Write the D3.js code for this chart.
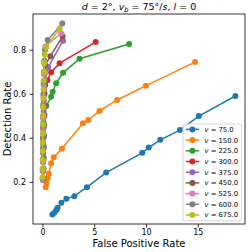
<!DOCTYPE html>
<html>
<head>
<meta charset="utf-8">
<script src="https://cdn.jsdelivr.net/npm/d3@7"></script>
<style>
  html, body { margin: 0; padding: 0; background: #fff; }
  svg { display: block; font-family: 'DejaVu Sans', sans-serif; }
</style>
</head>
<body>
<svg id="chart"></svg>
<script>
// speeds for each curve (legend labels)
const velocities = [75.0, 150.0, 225.0, 300.0, 375.0, 450.0, 525.0, 600.0, 675.0];

// [false positive rate, detection rate] pairs, one array per speed
const v75 = [[0.96, 0.052], [1.15, 0.06], [1.35, 0.072], [1.47, 0.083], [1.83, 0.105], [2.31, 0.123],
  [3.08, 0.135], [4.3, 0.176], [6.15, 0.242], [9.64, 0.332], [10.26, 0.356], [11.38, 0.391],
  [13.27, 0.435], [15.1, 0.499], [18.63, 0.59]];
const v150 = [[0.32, 0.176], [0.38, 0.195], [0.51, 0.217], [0.61, 0.237], [0.84, 0.285], [1.09, 0.312],
  [1.88, 0.35], [3.91, 0.466], [4.42, 0.481], [5.51, 0.522], [7.21, 0.572], [10.0, 0.637], [14.74, 0.744]];
const v225 = [[0.1, 0.215], [0.11, 0.26], [0.12, 0.31], [0.13, 0.36], [0.15, 0.41], [0.17, 0.46],
  [0.19, 0.504], [0.36, 0.544], [0.84, 0.586], [0.99, 0.609], [1.32, 0.648], [1.99, 0.695],
  [3.59, 0.759], [8.37, 0.826]];
const v300 = [[0.07, 0.21], [0.08, 0.25], [0.09, 0.3], [0.1, 0.35], [0.11, 0.4], [0.12, 0.45],
  [0.14, 0.5], [0.17, 0.55], [0.2, 0.6], [0.26, 0.64], [0.48, 0.662], [0.84, 0.698], [1.66, 0.739],
  [5.14, 0.835]];
const v375 = [[0.05, 0.21], [0.05, 0.25], [0.06, 0.29], [0.07, 0.33], [0.08, 0.37], [0.09, 0.42],
  [0.1, 0.47], [0.12, 0.52], [0.14, 0.57], [0.17, 0.62], [0.22, 0.66], [0.55, 0.72], [1.99, 0.841]];
const v450 = [[0.04, 0.21], [0.04, 0.25], [0.05, 0.29], [0.06, 0.34], [0.07, 0.39], [0.08, 0.44],
  [0.09, 0.49], [0.11, 0.54], [0.13, 0.59], [0.16, 0.64], [0.2, 0.69], [0.28, 0.73], [0.77, 0.771],
  [1.95, 0.861]];
const v525 = [[0.03, 0.21], [0.03, 0.25], [0.04, 0.29], [0.04, 0.34], [0.05, 0.39], [0.06, 0.44],
  [0.07, 0.49], [0.08, 0.54], [0.1, 0.59], [0.12, 0.64], [0.15, 0.69], [0.19, 0.74], [0.29, 0.815],
  [1.8, 0.875]];
const v600 = [[0.03, 0.215], [0.03, 0.26], [0.04, 0.3], [0.04, 0.35], [0.05, 0.4], [0.06, 0.45],
  [0.07, 0.5], [0.08, 0.55], [0.1, 0.6], [0.12, 0.65], [0.15, 0.7], [0.19, 0.75], [0.25, 0.8],
  [0.51, 0.844], [1.92, 0.919]];
const v675 = [[0.02, 0.22], [0.03, 0.26], [0.03, 0.3], [0.04, 0.34], [0.04, 0.38], [0.05, 0.42],
  [0.06, 0.46], [0.07, 0.5], [0.08, 0.54], [0.1, 0.58], [0.11, 0.62], [0.13, 0.66], [0.15, 0.7],
  [0.18, 0.74], [0.22, 0.779], [0.38, 0.812], [1.66, 0.897]];

const curves = [v75, v150, v225, v300, v375, v450, v525, v600, v675];
const xTicks = [0, 5, 10, 15];
const yTicks = [0.2, 0.4, 0.6, 0.8];

const colors = ['#1f77b4', '#ff7f0e', '#2ca02c', '#d62728', '#9467bd', '#8c564b', '#e377c2', '#7f7f7f', '#bcbd22'];

const width = 249;
const height = 252;
const margin = { top: 14, right: 4, bottom: 28, left: 33 };

const svg = d3.select('#chart').attr('width', width).attr('height', height);

// matplotlib style 5% padding around the data
const allPts = curves.flat();
const pad = (ext) => {
  const d = ext[1] - ext[0];
  return [ext[0] - 0.05 * d, ext[1] + 0.05 * d];
};
const x = d3.scaleLinear()
  .domain(pad(d3.extent(allPts, (p) => p[0])))
  .range([margin.left, width - margin.right]);
const y = d3.scaleLinear()
  .domain(pad(d3.extent(allPts, (p) => p[1])))
  .range([height - margin.bottom, margin.top]);

const plot = svg.append('g');
plot.append('clipPath').attr('id', 'clip')
  .append('rect')
  .attr('x', margin.left).attr('y', margin.top)
  .attr('width', width - margin.left - margin.right)
  .attr('height', height - margin.top - margin.bottom);

const line = d3.line().x((p) => x(p[0])).y((p) => y(p[1]));

// lines + markers, drawn series by series so later ones sit on top
curves.forEach((pts, i) => {
  const g = plot.append('g').attr('clip-path', 'url(#clip)');
  g.append('path')
    .attr('d', line(pts))
    .attr('fill', 'none')
    .attr('stroke', colors[i])
    .attr('stroke-width', 1.5);
  g.selectAll('circle')
    .data(pts)
    .join('circle')
    .attr('cx', (p) => x(p[0]))
    .attr('cy', (p) => y(p[1]))
    .attr('r', 3)
    .attr('fill', colors[i]);
});

// axes
const xAxis = svg.append('g')
  .attr('transform', `translate(0,${height - margin.bottom})`)
  .call(d3.axisBottom(x).tickValues(xTicks).tickSize(3.5).tickPadding(2.2).tickFormat(d3.format('d')));
const yAxis = svg.append('g')
  .attr('transform', `translate(${margin.left},0)`)
  .call(d3.axisLeft(y).tickValues(yTicks).tickSize(3.5).tickPadding(3.5).tickFormat(d3.format('.1f')));

for (const ax of [xAxis, yAxis]) {
  ax.select('.domain').remove();
  ax.selectAll('.tick line').attr('stroke', '#000').attr('stroke-width', 0.8);
  ax.selectAll('.tick text').attr('font-size', 8).attr('fill', '#000')
    .attr('font-family', "'DejaVu Sans', sans-serif");
}

// frame
svg.append('rect')
  .attr('x', margin.left).attr('y', margin.top)
  .attr('width', width - margin.left - margin.right)
  .attr('height', height - margin.top - margin.bottom)
  .attr('fill', 'none')
  .attr('stroke', '#000')
  .attr('stroke-width', 0.8);

// axis labels
svg.append('text')
  .attr('x', (margin.left + width - margin.right) / 2)
  .attr('y', 247)
  .attr('text-anchor', 'middle')
  .attr('font-size', 10)
  .text('False Positive Rate');
svg.append('text')
  .attr('transform', `translate(10.5,${(margin.top + height - margin.bottom) / 2}) rotate(-90)`)
  .attr('text-anchor', 'middle')
  .attr('font-size', 10)
  .text('Detection Rate');

// title with italic symbols and subscript
const title = svg.append('text')
  .attr('x', (margin.left + width - margin.right) / 2)
  .attr('y', 10)
  .attr('text-anchor', 'middle')
  .attr('font-size', 9.5);
title.append('tspan').attr('font-style', 'italic').text('d');
title.append('tspan').text(' = 2°,  ');
title.append('tspan').attr('font-style', 'italic').text('v');
title.append('tspan').attr('font-style', 'italic').attr('font-size', 6.7).attr('dy', 2).text('b');
title.append('tspan').attr('dy', -2).text(' = 75°/');
title.append('tspan').attr('font-style', 'italic').text('s');
title.append('tspan').text(',  ');
title.append('tspan').attr('font-style', 'italic').text('l');
title.append('tspan').text(' = 0');

// legend, lower right
const legX = 183, legY = 124, legW = 58.5, rowH = 10.7;
const legend = svg.append('g');
legend.append('rect')
  .attr('x', legX).attr('y', legY)
  .attr('width', legW).attr('height', rowH * velocities.length + 0.5)
  .attr('rx', 2)
  .attr('fill', '#fff').attr('fill-opacity', 0.8)
  .attr('stroke', '#ccc').attr('stroke-width', 0.8);

velocities.forEach((v, i) => {
  const cy = legY + 5.4 + i * rowH;
  legend.append('line')
    .attr('x1', legX + 2.7).attr('x2', legX + 16.2)
    .attr('y1', cy).attr('y2', cy)
    .attr('stroke', colors[i]).attr('stroke-width', 1.5);
  legend.append('circle')
    .attr('cx', legX + 9.4).attr('cy', cy).attr('r', 3)
    .attr('fill', colors[i]);
  const t = legend.append('text')
    .attr('x', legX + 21.5).attr('y', cy + 2.4)
    .attr('font-size', 6.8);
  t.append('tspan').attr('font-style', 'italic').text('v');
  t.append('tspan').text(` = ${v.toFixed(1)}`);
});
</script>
</body>
</html>
